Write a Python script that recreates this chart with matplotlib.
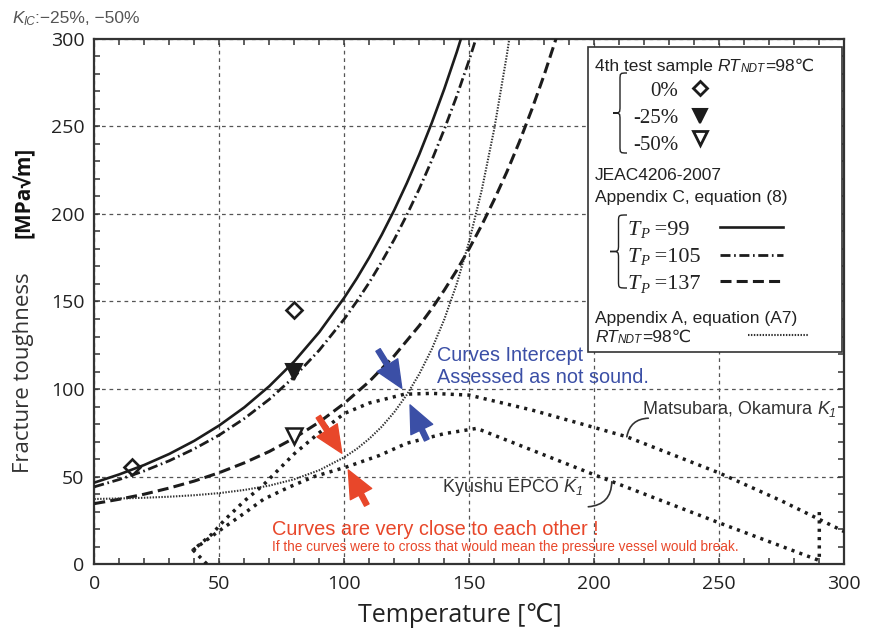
import matplotlib
matplotlib.use('Agg')
import matplotlib.pyplot as plt
from matplotlib.patches import Rectangle, PathPatch
from matplotlib.path import Path
from matplotlib.ticker import MultipleLocator

plt.rcParams['font.family'] = ['Liberation Sans', 'DejaVu Sans']

# ---------------- data ----------------
x_ticks = [0, 50, 100, 150, 200, 250, 300]
y_ticks = [0, 50, 100, 150, 200, 250, 300]

# JEAC4206-2007 Appendix C eq.(8) curves
t_tp99 = [0, 10, 20, 30, 40, 50, 60, 70, 80, 90, 100, 105, 110, 115, 120, 125, 130, 135, 140, 145, 150]
k_tp99 = [46.5, 51.2, 56.6, 62.9, 70.4, 79.2, 89.5, 101.6, 115.8, 132.5, 152.2, 163.2, 175.2, 188.2,
          202.3, 217.6, 234.1, 252.1, 271.5, 292.6, 315.4]
t_tp105 = [0, 10, 20, 30, 40, 50, 60, 70, 80, 90, 100, 105, 110, 115, 120, 125, 130, 135, 140, 145, 150, 155]
k_tp105 = [44.1, 48.3, 53.2, 59.0, 65.8, 73.7, 83.1, 94.1, 107.0, 122.2, 140.0, 150.1, 160.9, 172.8,
           185.5, 199.4, 214.4, 230.7, 248.4, 267.5, 288.2, 310.7]
t_tp137 = [0, 10, 20, 30, 40, 50, 60, 70, 80, 90, 100, 110, 120, 130, 135, 140, 145, 150, 155, 160,
           165, 170, 175, 180, 185]
k_tp137 = [34.5, 37.0, 39.9, 43.4, 47.4, 52.2, 57.8, 64.3, 72.0, 81.1, 91.8, 104.3, 119.0, 136.2, 145.9,
           156.5, 167.9, 180.3, 193.7, 208.3, 224.0, 241.1, 259.7, 279.7, 301.5]
# Appendix A eq.(A7), RTNDT = 98
t_a7 = [0, 10, 20, 30, 40, 50, 60, 70, 80, 90, 100, 105, 110, 115, 120, 125, 130, 135, 140, 145, 150,
        155, 160, 165, 167]
k_a7 = [37.15, 37.44, 37.85, 38.45, 39.3, 40.5, 42.3, 44.8, 48.4, 53.6, 61.0, 65.8, 71.6, 78.5, 86.8,
        96.7, 108.6, 122.8, 139.8, 160.2, 184.6, 213.8, 248.8, 290.7, 309.6]
# Matsubara, Okamura K1
t_mats = [45, 39.5, 47, 52, 60, 67.5, 80, 90, 100, 110, 124, 135, 150, 175, 200, 213, 225, 250, 275, 300]
k_mats = [0, 8, 17, 25, 36, 45, 63, 75, 86, 92, 97, 97.5, 96.5, 88, 78, 72.7, 66, 52, 36, 18.5]
# Kyushu EPCO K1
t_kyu = [39.5, 50, 60, 67.7, 78, 88, 101, 114, 125, 140, 153, 200, 250, 290, 290]
k_kyu = [8, 19, 29, 37, 44, 50, 55.5, 62, 69, 74.5, 77.5, 51, 23.5, 2, 31]

# 4th test sample points
t_p0 = [15, 80]
k_p0 = [55.5, 145]
t_p25 = [80]
k_p25 = [109.5]
t_p50 = [80]
k_p50 = [73]

W, H = 874, 632
BLUE = '#3b4fa6'
RED = '#e8472a'
INK = '#1c1c1c'

fig = plt.figure(figsize=(W / 100, H / 100), dpi=100)
ax = fig.add_axes([94.3 / W, 68 / H, 750 / W, 525 / H])

ax.set_xlim(0, 300)
ax.set_ylim(0, 300)
ax.set_axisbelow(True)
ax.grid(True, which='major', ls=(0, (3, 3)), color='#555555', lw=0.9)

ax.plot(t_tp99, k_tp99, color=INK, lw=1.9, ls='-', zorder=3)
ax.plot(t_tp105, k_tp105, color=INK, lw=2.0, ls=(0, (3.6, 1.3, 0.6, 1.3)), zorder=3)
ax.plot(t_tp137, k_tp137, color=INK, lw=2.2, ls=(0, (3.6, 1.7)), zorder=3)
ax.plot(t_a7, k_a7, color='#333333', lw=1.5, ls=(0, (0.7, 0.7)), zorder=3)
ax.plot(t_mats, k_mats, color=INK, lw=2.5, ls=(0, (0.9, 1.5)), zorder=3)
ax.plot(t_kyu, k_kyu, color=INK, lw=2.5, ls=(0, (0.9, 1.5)), zorder=3)

ax.plot(t_p0, k_p0, ls='none', marker='D', ms=8.5, mfc='none', mec=INK, mew=1.9, zorder=5)
ax.plot(t_p25, k_p25, ls='none', marker='v', ms=12, mfc=INK, mec=INK, mew=1.5, zorder=5)
ax.plot(t_p50, k_p50, ls='none', marker='v', ms=12, mfc='white', mec=INK, mew=1.8, zorder=5)

ax.set_xticks(x_ticks, [str(v) for v in x_ticks])
ax.set_yticks(y_ticks, [str(v) for v in y_ticks])
ax.xaxis.set_minor_locator(MultipleLocator(10))
ax.yaxis.set_minor_locator(MultipleLocator(10))
ax.tick_params(which='both', direction='in', top=True, right=True, length=4, width=1.1,
               color='#333333')
ax.tick_params(axis='x', which='major', pad=8, labelsize=14, labelcolor='#222222')
ax.tick_params(axis='y', which='major', pad=7, labelsize=14, labelcolor='#222222')
for lbl in ax.get_xticklabels() + ax.get_yticklabels():
    lbl.set_fontfamily(['Open Sans', 'DejaVu Sans'])
for sp in ax.spines.values():
    sp.set_linewidth(1.6)
    sp.set_color('#333333')

# arrows
def arrow(tail, tip, color):
    ax.annotate('', xy=tip, xytext=tail,
                arrowprops=dict(arrowstyle='simple,head_length=0.7,head_width=0.62,tail_width=0.13',
                                color=color, shrinkA=0, shrinkB=0, mutation_scale=28), zorder=6)

arrow((113.5, 122.3), (123.0, 100.4), BLUE)
arrow((133.0, 70.9), (126.3, 90.9), BLUE)
arrow((89.6, 84.2), (99.0, 63.3), RED)
arrow((109.0, 33.7), (101.6, 53.7), RED)

# leader lines
ax.annotate('', xy=(213.0, 72.7), xytext=(221.6, 83.3),
            arrowprops=dict(arrowstyle='-', connectionstyle='arc3,rad=0.4', color='#333333',
                            lw=1.2, shrinkA=0, shrinkB=0))
ax.annotate('', xy=(207.0, 47.0), xytext=(197.6, 32.7),
            arrowprops=dict(arrowstyle='-', connectionstyle='arc3,rad=0.45', color='#333333',
                            lw=1.2, shrinkA=0, shrinkB=0))

# ---------------- overlay (pixel coordinates, y downward) ----------------
ov = fig.add_axes([0, 0, 1, 1])
ov.set_xlim(0, W)
ov.set_ylim(H, 0)
ov.axis('off')
ov.patch.set_visible(False)

SANS = ['Liberation Sans', 'DejaVu Sans']
OPEN = ['Open Sans', 'DejaVu Sans']
SERIF = ['Liberation Serif', 'DejaVu Serif']

renderer = fig.canvas.get_renderer()


def rich(x, y, parts, color='#222222', zorder=4):
    """parts: list of (text, fontsize, family, style, dy)."""
    cx = x
    for s, fs, fam, style, dy in parts:
        t = ov.text(cx, y + dy, s, fontsize=fs, family=fam, style=style, color=color,
                    ha='left', va='baseline', zorder=zorder)
        bb = t.get_window_extent(renderer=renderer)
        cx += bb.width
    return cx


rich(12, 23.3, [('K', 12.5, SANS, 'italic', 0), ('IC', 8.5, SANS, 'italic', 1.5),
                (':−25%, −50%', 12.5, SANS, 'normal', 0)], color='#555555')

ov.text(24, 373, 'Fracture toughness', rotation=90, fontsize=16, color='#333333', family=OPEN,
        ha='center', va='center')
ov.text(24, 192, '[MPa√m]', rotation=90, fontsize=15, color='#111111', family=OPEN,
        fontweight='bold', ha='center', va='center')
ov.text(460, 615, 'Temperature [℃]', fontsize=18, color='#222222', family=OPEN,
        ha='center', va='center')

ov.text(437, 360.7, 'Curves Intercept', fontsize=14.3, color=BLUE, family=SANS, va='baseline')
ov.text(437, 383.3, 'Assessed as not sound.', fontsize=14.3, color=BLUE, family=SANS, va='baseline')
ov.text(272, 535, 'Curves are very close to each other !', fontsize=14.4, color=RED, family=SANS,
        va='baseline')
ov.text(272, 550.7, 'If the curves were to cross that would mean the pressure vessel would break.',
        fontsize=9.8, color=RED, family=SANS, va='baseline')
rich(643, 414, [('Matsubara, Okamura ', 13, SANS, 'normal', 0), ('K', 13, SANS, 'italic', 0),
                ('1', 9, SANS, 'italic', 3)], color='#333333')
rich(443, 491.7, [('Kyushu EPCO ', 13, SANS, 'normal', 0), ('K', 13, SANS, 'italic', 0),
                  ('1', 9, SANS, 'italic', 3)], color='#333333')

# legend box
ov.add_patch(Rectangle((588, 47), 254, 305, fc='white', ec='#333333', lw=1.2, zorder=2))


def brace(xtip, xarm, y0, y1, r=7):
    xm = (xtip + xarm) / 2
    ym = (y0 + y1) / 2
    verts = [(xarm, y0), (xm, y0), (xm, y0), (xm, y0 + r),
             (xm, ym - r), (xm, ym), (xm, ym), (xtip, ym),
             (xm, ym), (xm, ym), (xm, ym + r),
             (xm, y1 - r), (xm, y1), (xm, y1), (xarm, y1)]
    codes = [Path.MOVETO, Path.CURVE4, Path.CURVE4, Path.CURVE4,
             Path.LINETO, Path.CURVE4, Path.CURVE4, Path.CURVE4,
             Path.CURVE4, Path.CURVE4, Path.CURVE4,
             Path.LINETO, Path.CURVE4, Path.CURVE4, Path.CURVE4]
    ov.add_patch(PathPatch(Path(verts, codes), fc='none', ec='#222222', lw=1.0, zorder=3))


kw = dict(zorder=4, va='baseline')
FS = 12.5
rich(595, 71, [('4th test sample ', FS, SANS, 'normal', 0), ('RT', FS, SANS, 'italic', 0),
               ('NDT', 8.5, SANS, 'italic', 1.5), ('=98℃', FS, SANS, 'normal', 0)])
brace(613, 627, 73, 153)
ov.text(678, 96, '0%', fontsize=15, color='#222222', family=SERIF, ha='right', **kw)
ov.text(678, 122.7, '-25%', fontsize=15, color='#222222', family=SERIF, ha='right', **kw)
ov.text(678, 150, '-50%', fontsize=15, color='#222222', family=SERIF, ha='right', **kw)
ov.plot([700], [88.3], marker='D', ms=7.2, mfc='white', mec=INK, mew=2.0, zorder=5)
ov.plot([700], [116], marker='v', ms=10.5, mfc=INK, mec=INK, mew=1.5, zorder=5)
ov.plot([700], [138.3], marker='v', ms=10.5, mfc='white', mec=INK, mew=2.0, zorder=5)

ov.text(595, 180, 'JEAC4206-2007', fontsize=FS, color='#222222', family=SANS, **kw)
ov.text(595, 201.7, 'Appendix C, equation (8)', fontsize=FS, color='#222222', family=SANS, **kw)
brace(610, 627, 215, 288)
for yb, val in [(235, '99'), (261.7, '105'), (289.3, '137')]:
    rich(628, yb, [('T', 16, SERIF, 'italic', 0), ('P', 10.5, SERIF, 'italic', 3.5),
                   (' =' + val, 16, SERIF, 'normal', 0)])
ov.plot([720, 783], [227.3, 227.3], color=INK, lw=1.9, ls='-', zorder=5)
ov.plot([720, 783], [255, 255], color=INK, lw=2.0, ls=(0, (3.6, 1.3, 0.6, 1.3)), zorder=5)
ov.plot([720, 783], [281, 281], color=INK, lw=2.2, ls=(0, (3.6, 1.7)), zorder=5)

ov.text(595, 323.3, 'Appendix A, equation (A7)', fontsize=FS, color='#222222', family=SANS, **kw)
rich(595, 341.7, [('RT', FS, SANS, 'italic', 0), ('NDT', 8.5, SANS, 'italic', 1.5),
                  ('=98℃', FS, SANS, 'normal', 0)])
ov.plot([748, 808], [335, 335], color='#333333', lw=1.5, ls=(0, (0.7, 0.7)), zorder=5)

fig.savefig('out.png', dpi=100)
